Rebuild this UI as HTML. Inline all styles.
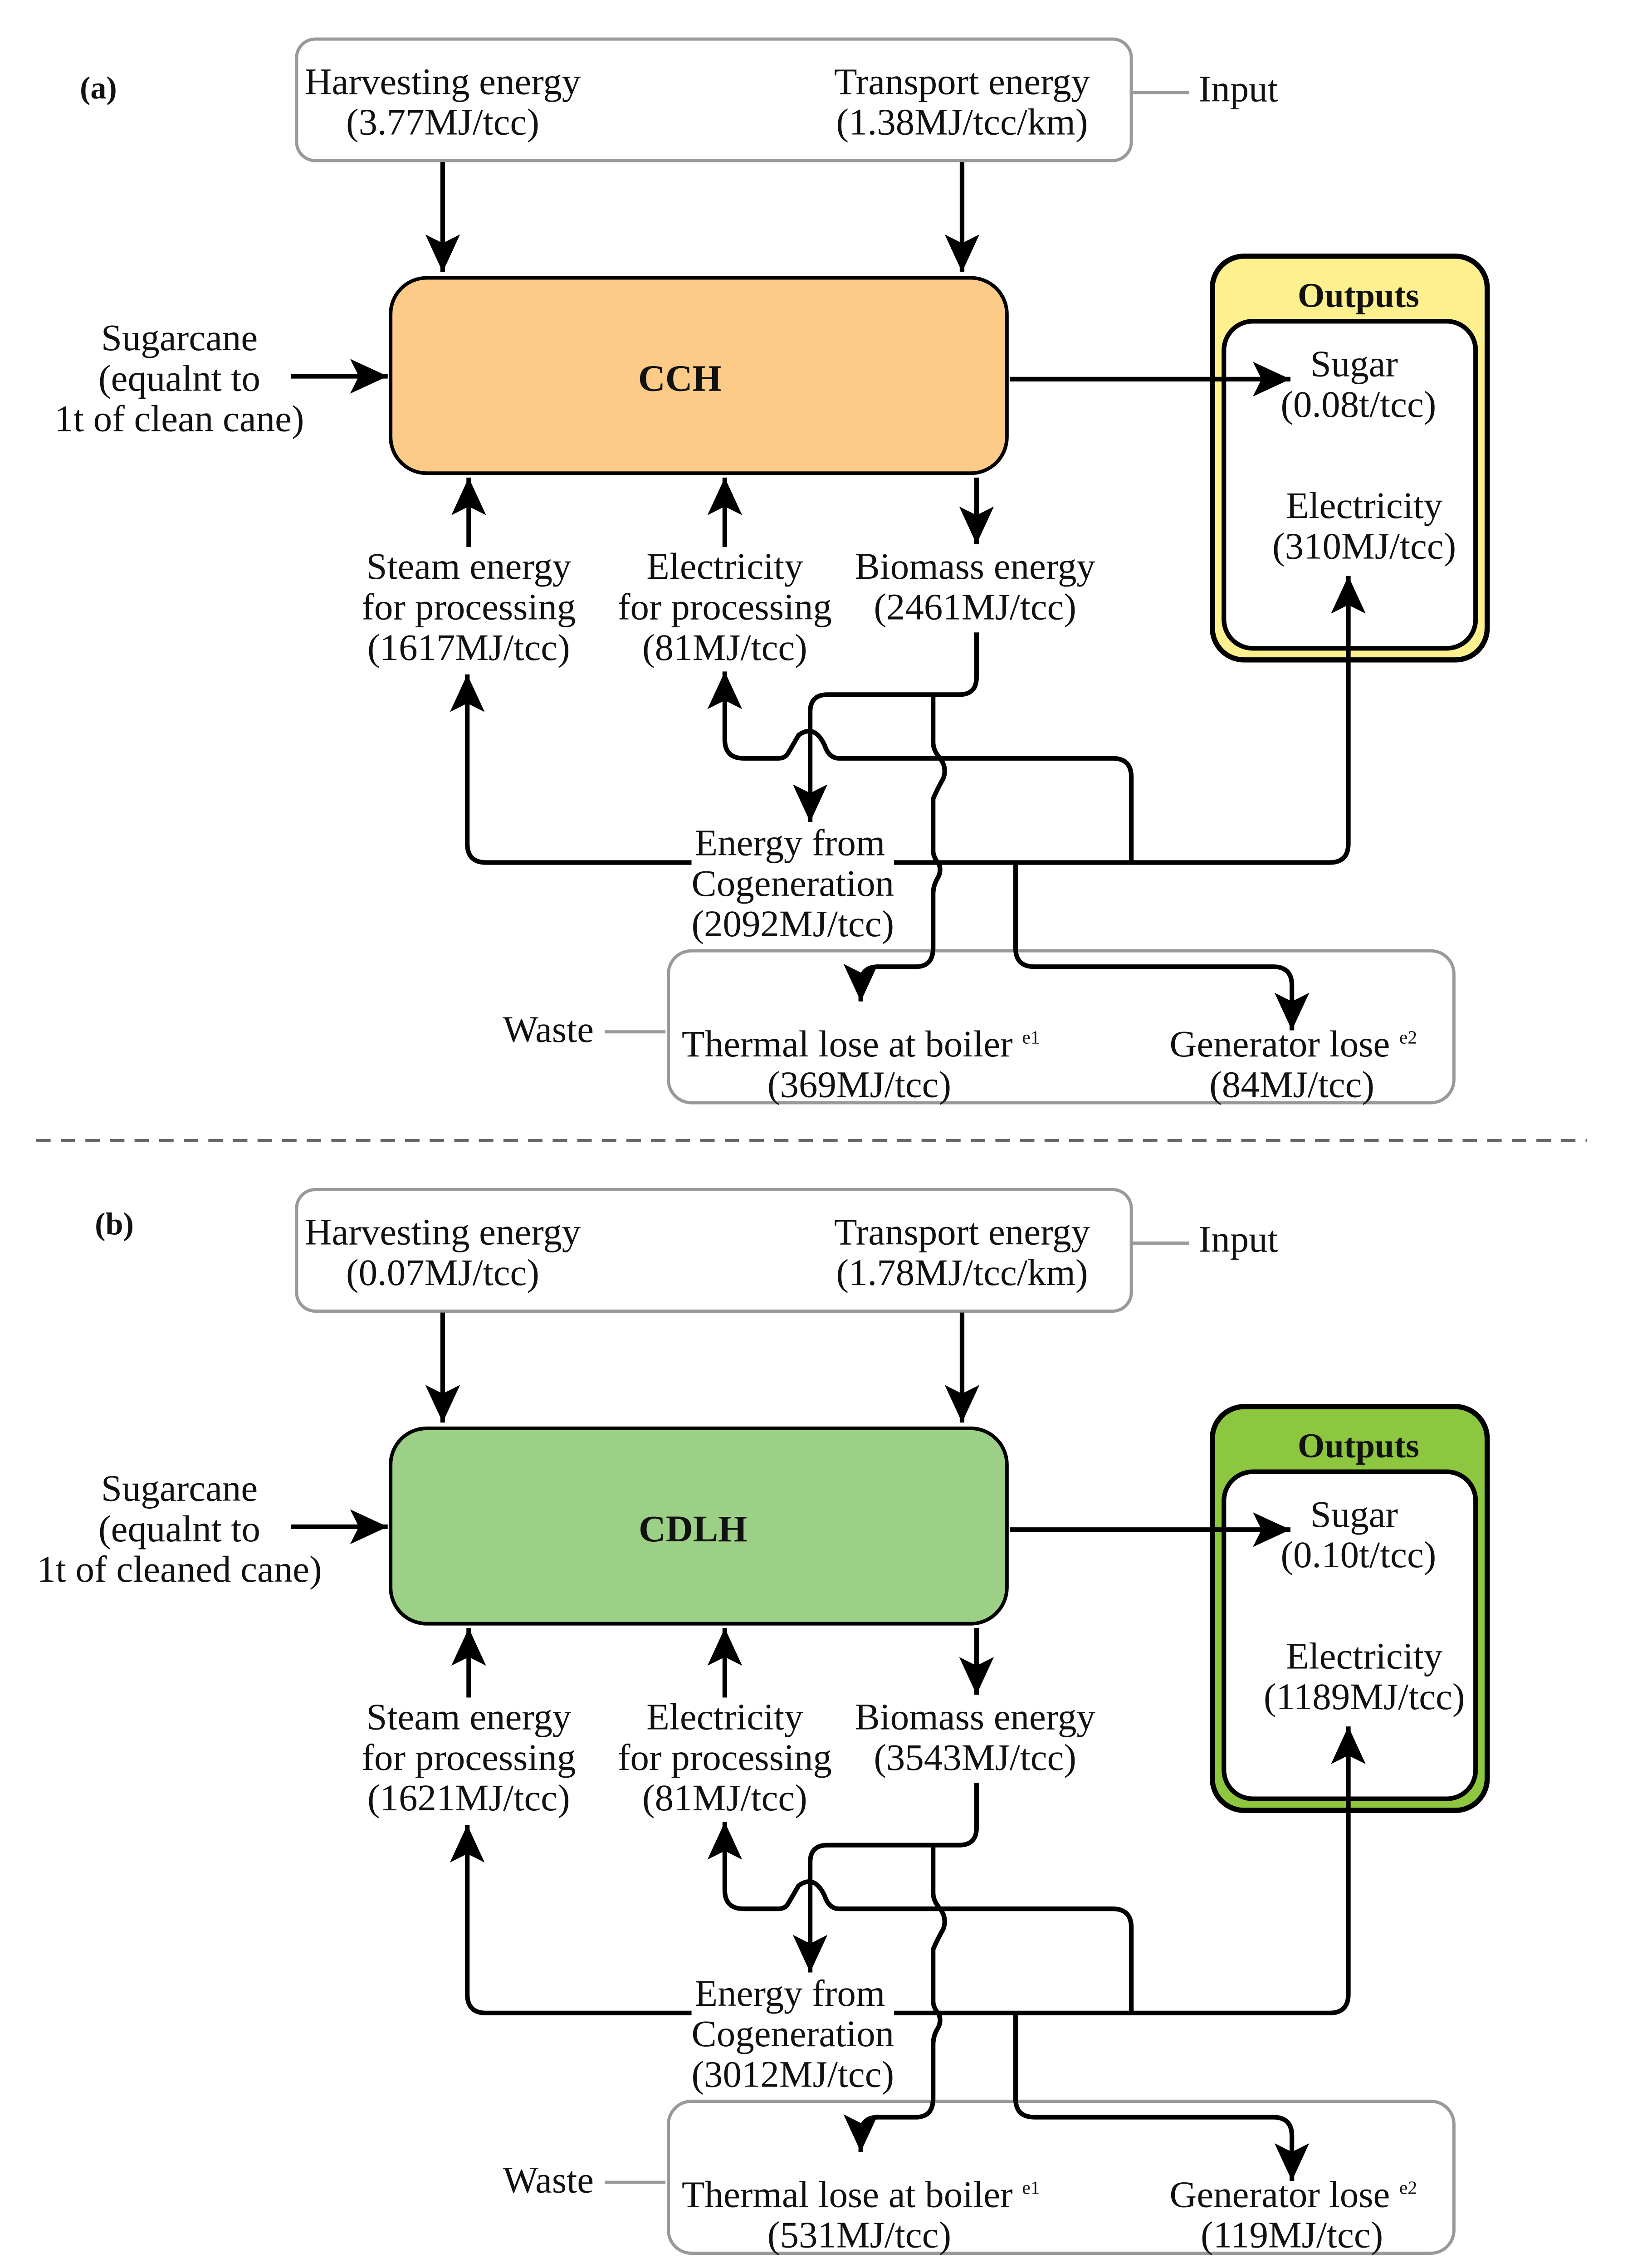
<!DOCTYPE html>
<html><head><meta charset="utf-8"><style>
html,body{margin:0;padding:0;background:#fff;width:3620px;height:5044px;overflow:hidden}
svg{display:block}
text{font-family:"Liberation Serif",serif;font-size:26px;fill:#111;text-anchor:middle}
.b{font-weight:bold}
</style></head><body>
<svg width="3620" height="5044" viewBox="0 0 1135 1581" preserveAspectRatio="none" xmlns="http://www.w3.org/2000/svg">
<defs>
<marker id="ah" markerUnits="userSpaceOnUse" markerWidth="30" markerHeight="26" refX="26" refY="13" orient="auto">
<path d="M0,1 L26,13 L0,25 L6,13 Z" fill="#000"/>
</marker>
<g id="panel">
<g fill="none" stroke-linejoin="round">
<rect x="205" y="27" width="577" height="84" rx="13" stroke="#999" stroke-width="2.2"/>
<line x1="782" y1="64" x2="822" y2="64" stroke="#999" stroke-width="2.2"/>
<rect x="462" y="657" width="543" height="105" rx="16" stroke="#999" stroke-width="2.2"/>
<line x1="418" y1="713" x2="460" y2="713" stroke="#999" stroke-width="2.2"/>
<g stroke="#000" stroke-width="3.2">
<path d="M306 112 V188" marker-end="url(#ah)"/>
<path d="M665 112 V188" marker-end="url(#ah)"/>
<path d="M201 260 H268" marker-end="url(#ah)"/>
<path d="M698 262 H892" marker-end="url(#ah)"/>
<path d="M324 378 V330" marker-end="url(#ah)"/>
<path d="M501 378 V330" marker-end="url(#ah)"/>
<path d="M675 330 V376" marker-end="url(#ah)"/>
<path d="M675 437 V468 Q675 480 663 480 H572 Q560 480 560 492 V568" marker-end="url(#ah)"/>
<path d="M645 480 V513 Q645 518 649 523 Q655 530 652 538 Q648 545 645 552 V588 Q645 592 649 597 Q651 602 648 607 Q645 612 645 618 V655 Q645 668 633 668 H607 Q595 668 595 680 V692" marker-end="url(#ah)"/>
<path d="M782 595 V537 Q782 524 769 524 H580 Q573 524 570 515 Q563 500 552 508 Q548 515 545 520 Q543 524 538 524 H514 Q501 524 501 511 V464" marker-end="url(#ah)"/>
<path d="M478 596 H336 Q323 596 323 583 V466" marker-end="url(#ah)"/>
<path d="M618 596 H919 Q932 596 932 583 V398" marker-end="url(#ah)"/>
<path d="M702 596 V655 Q702 668 715 668 H880 Q893 668 893 681 V712" marker-end="url(#ah)"/>
</g>
</g>
<text x="306" y="65">Harvesting energy</text>
<text x="665" y="65">Transport energy</text>
<text x="856" y="70">Input</text>
<text x="124" y="242">Sugarcane</text>
<text x="124" y="270">(equalnt to</text>
<text x="324" y="400">Steam energy</text>
<text x="324" y="428">for processing</text>
<text x="501" y="400">Electricity</text>
<text x="501" y="428">for processing</text>
<text x="501" y="456">(81MJ/tcc)</text>
<text x="674" y="400">Biomass energy</text>
<text x="546" y="591">Energy from</text>
<text x="548" y="619">Cogeneration</text>
<text x="379" y="720">Waste</text>
<text x="595" y="730">Thermal lose at boiler <tspan font-size="13" dy="-9">e1</tspan></text>
<text x="894" y="730">Generator lose <tspan font-size="13" dy="-9">e2</tspan></text>
</g>
</defs>

<!-- Panel a -->
<text x="68" y="68" class="b" style="font-size:22px">(a)</text>
<rect x="270" y="192" width="426" height="135" rx="25" fill="#FCCB87" stroke="#000" stroke-width="2.5"/>
<rect x="838" y="177" width="190" height="279" rx="22" fill="#FEF08E" stroke="#000" stroke-width="3.6"/>
<rect x="846" y="222" width="174" height="226" rx="20" fill="#fff" stroke="#000" stroke-width="3.2"/>
<use href="#panel"/>
<text x="470" y="270" class="b" style="font-size:26px">CCH</text>
<text x="939" y="212" class="b" style="font-size:24px">Outputs</text>
<text x="306" y="93">(3.77MJ/tcc)</text>
<text x="665" y="93">(1.38MJ/tcc/km)</text>
<text x="124" y="298">1t of clean cane)</text>
<text x="936" y="260">Sugar</text>
<text x="939" y="288">(0.08t/tcc)</text>
<text x="943" y="358">Electricity</text>
<text x="943" y="386">(310MJ/tcc)</text>
<text x="324" y="456">(1617MJ/tcc)</text>
<text x="674" y="428">(2461MJ/tcc)</text>
<text x="548" y="647">(2092MJ/tcc)</text>
<text x="594" y="758">(369MJ/tcc)</text>
<text x="893" y="758">(84MJ/tcc)</text>

<line x1="25" y1="788" x2="1097" y2="788" stroke="#666" stroke-width="2" stroke-dasharray="10,7"/>

<!-- Panel b -->
<g transform="translate(0,795)">
<text x="79" y="58" class="b" style="font-size:22px">(b)</text>
<rect x="270" y="192" width="426" height="135" rx="25" fill="#9CD086" stroke="#000" stroke-width="2.5"/>
<rect x="838" y="177" width="190" height="279" rx="22" fill="#8DC63F" stroke="#000" stroke-width="3.6"/>
<rect x="846" y="222" width="174" height="226" rx="20" fill="#fff" stroke="#000" stroke-width="3.2"/>
<use href="#panel"/>
<text x="479" y="270" class="b" style="font-size:26px">CDLH</text>
<text x="939" y="212" class="b" style="font-size:24px">Outputs</text>
<text x="306" y="93">(0.07MJ/tcc)</text>
<text x="665" y="93">(1.78MJ/tcc/km)</text>
<text x="124" y="298">1t of cleaned cane)</text>
<text x="936" y="260">Sugar</text>
<text x="939" y="288">(0.10t/tcc)</text>
<text x="943" y="358">Electricity</text>
<text x="943" y="386">(1189MJ/tcc)</text>
<text x="324" y="456">(1621MJ/tcc)</text>
<text x="674" y="428">(3543MJ/tcc)</text>
<text x="548" y="647">(3012MJ/tcc)</text>
<text x="594" y="758">(531MJ/tcc)</text>
<text x="893" y="758">(119MJ/tcc)</text>
</g>
</svg>
</body></html>
